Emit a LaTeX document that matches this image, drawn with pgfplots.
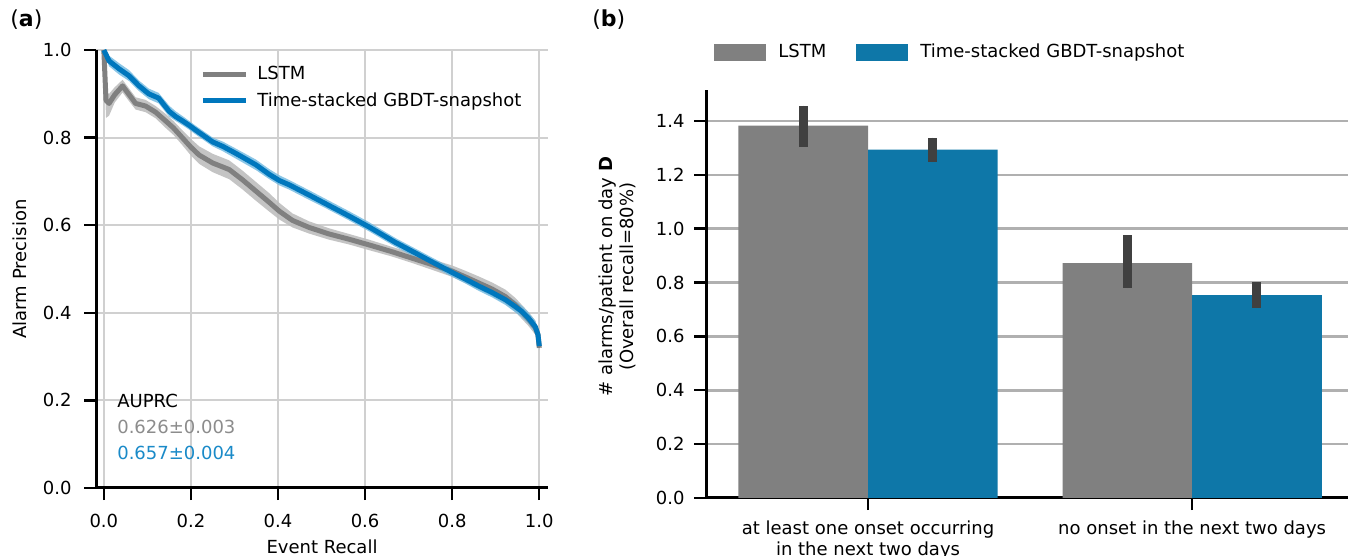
\documentclass[border=0pt]{standalone}
\usepackage{fontspec}
\setmainfont{DejaVu Sans}
\usepackage{pgfplots}
\usepackage{pgfplotstable}
\pgfplotsset{compat=1.18}
\usepgfplotslibrary{fillbetween}
\definecolor{lstmgray}{HTML}{808080}
\definecolor{bandgray}{HTML}{BEBEBE}
\definecolor{gbdtline}{HTML}{0077BD}
\definecolor{gbdtband}{HTML}{6EB8E0}
\definecolor{gbdtbar}{HTML}{0E77A8}
\definecolor{errc}{HTML}{404040}
\definecolor{grida}{HTML}{D0D0D0}
\definecolor{gridb}{HTML}{B0B0B0}
\definecolor{txtgray}{HTML}{8C8C8C}
\definecolor{txtblue}{HTML}{1A8AC8}

\pgfplotstableread{
r p lo hi
0.000 1.000 0.995 1.000
0.005 0.885 0.845 0.905
0.012 0.878 0.850 0.900
0.025 0.898 0.880 0.915
0.043 0.918 0.903 0.932
0.058 0.898 0.883 0.912
0.073 0.878 0.864 0.892
0.096 0.872 0.858 0.886
0.119 0.858 0.844 0.872
0.142 0.838 0.822 0.854
0.160 0.822 0.806 0.838
0.180 0.800 0.783 0.817
0.200 0.778 0.759 0.797
0.219 0.760 0.740 0.780
0.250 0.742 0.721 0.763
0.288 0.727 0.705 0.748
0.318 0.704 0.682 0.725
0.349 0.678 0.656 0.699
0.380 0.652 0.631 0.673
0.403 0.632 0.613 0.651
0.433 0.611 0.595 0.627
0.471 0.595 0.581 0.609
0.517 0.580 0.567 0.593
0.563 0.568 0.556 0.580
0.609 0.555 0.543 0.567
0.660 0.540 0.529 0.551
0.707 0.525 0.514 0.537
0.754 0.510 0.498 0.522
0.800 0.495 0.482 0.508
0.830 0.482 0.468 0.496
0.861 0.468 0.453 0.483
0.892 0.454 0.438 0.469
0.922 0.437 0.421 0.453
0.945 0.418 0.402 0.434
0.960 0.402 0.386 0.418
0.975 0.386 0.370 0.402
0.991 0.366 0.350 0.382
0.997 0.350 0.336 0.364
1.000 0.320 0.315 0.325
}\lstm

\pgfplotstableread{
r p lo hi
0.000 1.000 0.995 1.000
0.012 0.975 0.963 0.987
0.035 0.957 0.944 0.970
0.058 0.941 0.929 0.954
0.081 0.918 0.906 0.930
0.103 0.900 0.888 0.912
0.126 0.890 0.878 0.902
0.150 0.860 0.848 0.873
0.165 0.848 0.838 0.860
0.181 0.838 0.828 0.849
0.196 0.828 0.818 0.838
0.211 0.817 0.807 0.827
0.250 0.790 0.780 0.800
0.273 0.780 0.769 0.791
0.303 0.764 0.752 0.775
0.349 0.738 0.726 0.750
0.380 0.716 0.705 0.728
0.403 0.702 0.691 0.714
0.426 0.692 0.681 0.703
0.471 0.669 0.658 0.680
0.517 0.645 0.635 0.656
0.563 0.621 0.611 0.632
0.609 0.596 0.586 0.607
0.669 0.561 0.551 0.571
0.707 0.541 0.531 0.551
0.754 0.516 0.506 0.526
0.800 0.492 0.482 0.502
0.830 0.477 0.467 0.487
0.861 0.461 0.450 0.472
0.892 0.446 0.435 0.457
0.922 0.430 0.418 0.442
0.945 0.414 0.401 0.427
0.960 0.403 0.390 0.416
0.975 0.388 0.375 0.401
0.991 0.368 0.354 0.382
0.997 0.350 0.338 0.362
1.000 0.324 0.318 0.330
}\gbdt

\begin{document}
\fontsize{9}{10.5}\selectfont
\begin{tikzpicture}[font=\fontsize{9}{10.5}\selectfont]
\node[anchor=west, inner sep=0pt, font=\fontsize{11}{13}\selectfont] at (5pt,268pt) {(\textbf{a})};
\node[anchor=west, inner sep=0pt, font=\fontsize{11}{13}\selectfont] at (296pt,268pt) {(\textbf{b})};

% ---------------- panel (a)
\begin{axis}[
  at={(48pt,34pt)}, anchor=south west, scale only axis,
  width=226pt, height=219pt,
  xmin=-0.018, xmax=1.02, ymin=0, ymax=1.0,
  axis x line*=bottom, axis y line*=left,
  axis line style={line width=1.5pt, -},
  tick align=outside, major tick length=6pt,
  major tick style={line width=1.2pt, black},
  xtick={0,0.2,0.4,0.6,0.8,1.0}, ytick={0,0.2,0.4,0.6,0.8,1.0},
  grid=major, major grid style={color=grida, line width=1pt},
  ticklabel style={font=\fontsize{9}{10.5}\selectfont,
    /pgf/number format/fixed, /pgf/number format/fixed zerofill,
    /pgf/number format/precision=1, /pgf/number format/assume math mode=true},
  xticklabel style={yshift=-4pt},
  yticklabel style={xshift=-3pt},
  xlabel={Event Recall}, ylabel={Alarm Precision},
  xlabel style={at={(axis description cs:0.5,-0.1336)}, anchor=center},
  ylabel style={at={(axis description cs:-0.168,0.5)}, anchor=center},
  legend image code/.code={\draw[#1, line width=2.5pt] (0pt,0pt) -- (21.5pt,0pt);},
  legend style={at={(axis description cs:0.23,0.914)}, anchor=west, draw=none, fill=none,
    inner xsep=0pt, inner ysep=0pt, row sep=3pt,
    nodes={inner sep=1pt}, font=\fontsize{9}{10.5}\selectfont,
    /tikz/every odd column/.append style={column sep=3.5pt}},
  legend cell align=left,
]
\addplot[name path=glo, draw=none, forget plot] table[x=r, y=lo] {\lstm};
\addplot[name path=ghi, draw=none, forget plot] table[x=r, y=hi] {\lstm};
\addplot[fill=bandgray, fill opacity=0.9, draw=none, forget plot] fill between[of=glo and ghi];
\addplot[name path=blo, draw=none, forget plot] table[x=r, y=lo] {\gbdt};
\addplot[name path=bhi, draw=none, forget plot] table[x=r, y=hi] {\gbdt};
\addplot[fill=gbdtband, fill opacity=0.8, draw=none, forget plot] fill between[of=blo and bhi];
\addplot[color=lstmgray, line width=2.5pt, line join=round] table[x=r, y=p] {\lstm};
\addlegendentry{LSTM}
\addplot[color=gbdtline, line width=2.5pt, line join=round] table[x=r, y=p] {\gbdt};
\addlegendentry{Time-stacked GBDT-snapshot}
\node[anchor=west, inner sep=0pt] at (axis cs:0.03,0.199) {AUPRC};
\node[anchor=west, inner sep=0pt, text=txtgray] at (axis cs:0.03,0.139) {0.626±0.003};
\node[anchor=west, inner sep=0pt, text=txtblue] at (axis cs:0.03,0.080) {0.657±0.004};
\end{axis}

% ---------------- panel (b)
\begin{axis}[
  at={(353pt,29pt)}, anchor=south west, scale only axis,
  width=321pt, height=204pt,
  xmin=-0.5, xmax=1.481, ymin=0, ymax=1.515,
  axis x line*=bottom, axis y line*=left,
  axis line style={line width=1.5pt, -},
  tick align=outside, major tick length=6pt,
  major tick style={line width=1.2pt, black},
  xtick={0,1},
  xticklabels={{at least one onset occurring\\in the next two days},{no onset in the next two days}},
  ytick={0,0.2,0.4,0.6,0.8,1.0,1.2,1.4},
  ymajorgrids, major grid style={color=gridb, line width=1.3pt},
  ticklabel style={font=\fontsize{9}{10.5}\selectfont},
  yticklabel style={/pgf/number format/fixed, /pgf/number format/fixed zerofill,
    /pgf/number format/precision=1, /pgf/number format/assume math mode=true, xshift=-1.5pt},
  xticklabel style={align=center, yshift=-2.25pt},
  ylabel={\# alarms/patient on day \textbf{D}\\(Overall recall=80\%)},
  ylabel style={align=center, at={(axis description cs:-0.1386,0.542)}, anchor=center},
  legend image code/.code={\fill[#1] (0pt,-4.25pt) rectangle (26pt,4.25pt);},
  legend style={at={(axis description cs:0.0125,1.093)}, anchor=west, draw=none, fill=none,
    inner xsep=0pt, inner ysep=0pt, legend columns=2,
    /tikz/every odd column/.append style={column sep=5pt},
    /tikz/every even column/.append style={column sep=14pt},
    nodes={inner sep=1pt}, font=\fontsize{9}{10.5}\selectfont},
]
\addplot[ybar, bar width=0.4, bar shift=0pt, fill=lstmgray, draw=none, forget plot,
  error bars/.cd, y dir=both, y explicit, error mark=none,
  error bar style={line width=4.5pt, color=errc}]
  coordinates {(-0.2,1.383) += (0,0.074) -= (0,0.078)
               (0.8,0.872) += (0,0.103) -= (0,0.093)};
\addplot[ybar, bar width=0.4, bar shift=0pt, fill=gbdtbar, draw=none, forget plot,
  error bars/.cd, y dir=both, y explicit, error mark=none,
  error bar style={line width=4.5pt, color=errc}]
  coordinates {(0.2,1.294) += (0,0.044) -= (0,0.047)
               (1.2,0.753) += (0,0.048) -= (0,0.048)};
\addlegendimage{fill=lstmgray, draw=none}
\addlegendentry{LSTM}
\addlegendimage{fill=gbdtbar, draw=none}
\addlegendentry{Time-stacked GBDT-snapshot}
\end{axis}
\pgfresetboundingbox
\path[use as bounding box] (0,0) rectangle (674pt,278pt);
\end{tikzpicture}
\end{document}
